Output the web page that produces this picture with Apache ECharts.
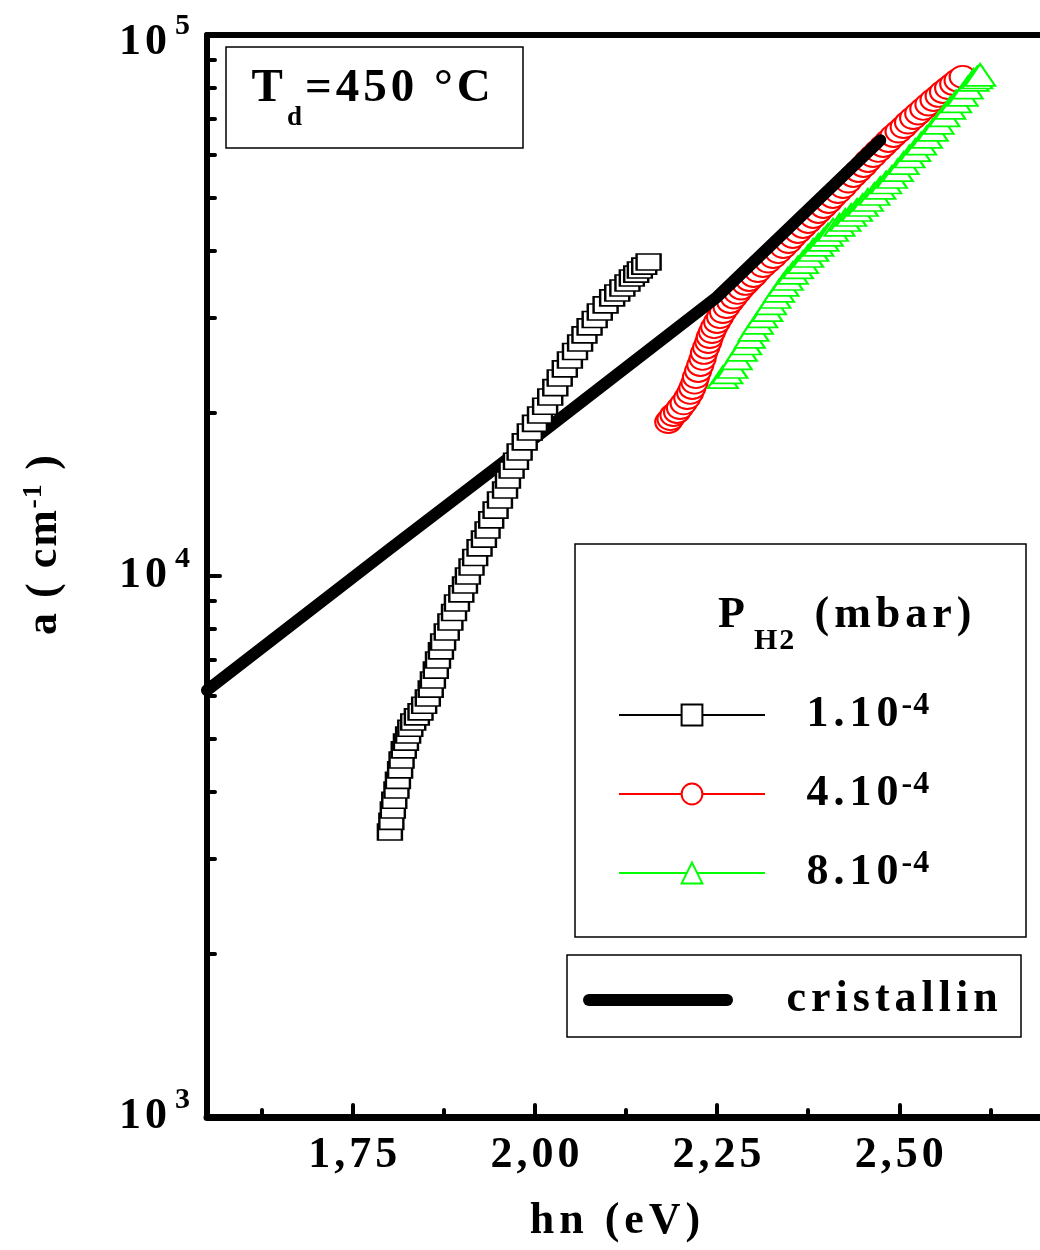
<!DOCTYPE html>
<html><head><meta charset="utf-8">
<script src="https://cdn.jsdelivr.net/npm/echarts@6/dist/echarts.min.js"></script>
<style>html,body{margin:0;padding:0;background:#fff;overflow:hidden}#c{width:1040px;height:1250px}</style>
</head><body><div id="c"></div>
<script>
// ---------------- data ----------------
const pressureMantissa = ['1.10', '4.10', '8.10'];
const pressureExponent = ['-4', '-4', '-4'];
const crystalName = 'cristallin';

// P(H2) = 1.10^-4 mbar  (open squares)
const energy1 = [1.801,1.803,1.805,1.807,1.810,1.812,1.815,1.817,1.820,1.823,1.826,1.829,1.833,1.838,1.843,1.848,1.853,1.857,1.860,1.864,1.867,1.871,1.874,1.879,1.884,1.889,1.893,1.899,1.904,1.908,1.913,1.918,1.924,1.930,1.935,1.940,1.946,1.952,1.959,1.963,1.968,1.974,1.979,1.986,1.993,2.000,2.007,2.014,2.021,2.028,2.034,2.041,2.048,2.055,2.062,2.068,2.075,2.082,2.089,2.097,2.106,2.113,2.120,2.127,2.133,2.139,2.144,2.150,2.156];
const alpha1  = [3364,3520,3694,3850,4021,4190,4381,4570,4770,4930,5083,5230,5373,5490,5607,5770,5950,6180,6423,6700,6995,7270,7551,7880,8222,8560,8915,9270,9625,10000,10390,10820,11270,11700,12160,12700,13240,13820,14420,15050,15700,16300,16950,17700,18460,19150,19840,20600,21420,22300,23230,24150,25080,26000,26960,27900,28870,29800,30760,31700,32660,33350,34070,34800,35550,36150,36780,37400,38050];

// P(H2) = 4.10^-4 mbar  (open circles)
const energy2 = [2.183,2.186,2.190,2.195,2.199,2.204,2.209,2.213,2.216,2.219,2.221,2.224,2.227,2.230,2.232,2.235,2.238,2.240,2.243,2.246,2.250,2.254,2.258,2.263,2.268,2.273,2.278,2.283,2.289,2.294,2.300,2.306,2.313,2.320,2.327,2.334,2.341,2.348,2.354,2.361,2.368,2.375,2.382,2.389,2.396,2.403,2.409,2.416,2.423,2.430,2.437,2.444,2.451,2.457,2.464,2.471,2.478,2.485,2.492,2.499,2.506,2.512,2.519,2.526,2.533,2.540,2.547,2.554,2.560,2.567,2.574,2.580,2.587];
const alpha2  = [19260,19500,19840,20100,20440,20850,21330,21800,22260,22780,23320,23930,24550,25200,25840,26450,27070,27650,28250,28850,29480,30100,30760,31420,32100,32720,33360,34000,34660,35250,35860,36620,37410,38130,38870,39700,40560,41430,42330,43240,44170,45120,46090,47080,48100,49130,50190,51260,52360,53600,54880,56060,57270,58500,59750,61050,62350,63700,65060,66310,67590,68900,70240,71600,73000,74400,75840,77150,78460,79800,81190,82400,83650];

// P(H2) = 8.10^-4 mbar  (open triangles)
const energy3 = [2.258,2.264,2.271,2.277,2.284,2.290,2.295,2.300,2.306,2.312,2.319,2.324,2.330,2.335,2.341,2.347,2.354,2.361,2.368,2.375,2.382,2.389,2.396,2.402,2.409,2.418,2.426,2.434,2.442,2.450,2.457,2.466,2.474,2.482,2.490,2.498,2.506,2.514,2.522,2.530,2.538,2.546,2.554,2.562,2.570,2.578,2.587,2.594,2.602,2.607,2.611];
const alpha3  = [23320,23800,24340,25250,26170,26900,27660,28500,29360,30180,31020,31900,32790,33640,34510,35400,36320,37180,38050,39040,40050,40920,41800,42700,43610,44550,45500,46480,47480,48500,49550,50830,52150,53380,54640,56280,57990,59620,61290,63010,64790,66750,68770,71000,73320,75360,77470,79950,82580,83450,84360];

// crystalline reference curve
const energyC = [1.55, 1.80, 2.00, 2.25, 2.474];
const alphaC  = [6150, 11200, 18000, 32800, 63900];

// axis ticks / labels
const xTickValues = [1.75, 2.00, 2.25, 2.50];
const xTickLabels = ['1,75', '2,00', '2,25', '2,50'];
const xMinorTicks = [1.625, 1.875, 2.125, 2.375, 2.625];
const yTickValues = [1000, 10000, 100000];
const yTickExponents = ['3', '4', '5'];
const yMinorTicks = [2000,3000,4000,5000,6000,7000,8000,9000,20000,30000,40000,50000,60000,70000,80000,90000];

const xAxisTitle = 'hn (eV)';
const yTitleMain = 'a ( cm', yTitleSup = '-1', yTitleEnd = ' )';
const boxTitle = ['T', 'd', '=450 °C'];
const legendTitle = ['P', 'H2', '(mbar)'];

// ---------------- helpers ----------------
const FONT = "'Liberation Serif','Times New Roman',serif";
const seriesNames = pressureMantissa.map((m, i) => m + '^' + pressureExponent[i]);
function sp(style, str) { return Array.from(str).map(c => '{' + style + '|' + c + '}').join(''); }
function rs(size, gap, extra) {
  return Object.assign({ fontFamily: FONT, fontWeight: 'bold', fontSize: size, color: '#000',
    lineHeight: size, padding: [0, gap / 2, 0, gap / 2] }, extra || {});
}
function pairs(e, a) { return e.map((v, i) => [v, a[i]]); }
function gtext(x, y, str, size, gap) {
  return { type: 'text', x: x, y: y, z: 50,
    style: { text: sp('c', str), rich: { c: rs(size, gap) }, align: 'left', verticalAlign: 'middle' } };
}

const ellipse = 'path://M0 10A10 10 0 1 1 20 10A10 10 0 1 1 0 10Z';
const capsule = 'path://M6 0H144A6 6 0 0 1 144 12H6A6 6 0 0 1 6 0Z';

const chart = echarts.init(document.getElementById('c'), null, { renderer: 'canvas' });

const xBase = { type: 'value', min: 1.55, max: 2.7, splitLine: { show: false } };
const yBase = { type: 'log', logBase: 10, min: 1000, max: 100000, splitLine: { show: false } };

const option = {
  animation: false,
  backgroundColor: '#fff',
  grid: { left: 207, right: -5, top: 35, bottom: 133, containLabel: false, outerBoundsMode: 'none' },
  xAxis: [
    Object.assign({}, xBase, {
      position: 'bottom',
      axisLine: { show: true, onZero: false, lineStyle: { color: '#000', width: 7 } },
      axisTick: { show: true, inside: true, length: 12, customValues: xTickValues,
        lineStyle: { color: '#000', width: 4, cap: 'round' } },
      axisLabel: { show: true, customValues: xTickValues, margin: 17,
        formatter: v => { const i = xTickValues.findIndex(t => Math.abs(t - v) < 1e-6); return i < 0 ? '' : sp('t', xTickLabels[i]); },
        rich: { t: rs(44, 4, { lineHeight: 44 }) } },
      name: sp('n', xAxisTitle), nameLocation: 'middle', nameGap: 80,
      nameTextStyle: { rich: { n: rs(44, 5, { lineHeight: 50 }) }, padding: [0, 22, 0, 0] }
    }),
    Object.assign({}, xBase, {
      position: 'bottom',
      axisLine: { show: false, onZero: false },
      axisTick: { show: true, inside: true, length: 7, customValues: xMinorTicks,
        lineStyle: { color: '#000', width: 4, cap: 'round' } },
      axisLabel: { show: false }
    }),
    Object.assign({}, xBase, {
      position: 'top',
      axisLine: { show: true, onZero: false, lineStyle: { color: '#000', width: 6 } },
      axisTick: { show: false }, axisLabel: { show: false }
    })
  ],
  yAxis: [
    Object.assign({}, yBase, {
      position: 'left',
      axisLine: { show: true, onZero: false, lineStyle: { color: '#000', width: 6 } },
      axisTick: { show: true, inside: true, length: 13, customValues: yTickValues,
        lineStyle: { color: '#000', width: 4, cap: 'round' } },
      axisLabel: { show: true, customValues: yTickValues, margin: 17,
        formatter: v => {
          const i = yTickValues.findIndex(t => Math.abs(t - v) / t < 1e-6);
          if (i < 0) return '';
          const top = i === yTickValues.length - 1;
          return sp(top ? 'T' : 't', '10') + sp(top ? 'E' : 'e', yTickExponents[i]);
        },
        rich: {
          t: rs(44, 4, { lineHeight: 44 }), e: rs(30, 0, { lineHeight: 8, padding: [0, 0, 33, 6] }),
          T: rs(44, 4, { lineHeight: 44, padding: [16, 2, 0, 2] }), E: rs(30, 0, { lineHeight: 8, padding: [16, 0, 33, 6] })
        } },
      name: sp('n', yTitleMain) + sp('u', yTitleSup) + sp('n', yTitleEnd),
      nameLocation: 'middle', nameRotate: 90, nameGap: 137,
      nameTextStyle: { rich: { n: rs(44, 2, { lineHeight: 50 }), u: rs(28, 1, { lineHeight: 11, verticalAlign: 'top' }) },
        padding: [0, 0, 0, 62] }
    }),
    Object.assign({}, yBase, {
      position: 'left',
      axisLine: { show: false, onZero: false },
      axisTick: { show: true, inside: true, length: 8, customValues: yMinorTicks,
        lineStyle: { color: '#000', width: 4, cap: 'round' } },
      axisLabel: { show: false }
    })
  ],
  legend: [
    {
      data: seriesNames, orient: 'vertical', left: 618, top: 690, padding: 0, z: 20,
      itemWidth: 146, itemHeight: 26, itemGap: 32, selectedMode: false,
      lineStyle: { width: 2, opacity: 1 },
      formatter: name => { const i = seriesNames.indexOf(name); return '{g| }' + sp('m', pressureMantissa[i]) + sp('s', pressureExponent[i]); },
      textStyle: { rich: { g: { width: 34 }, m: rs(44, 5, { lineHeight: 50 }), s: rs(32, 1, { lineHeight: 11, verticalAlign: 'top' }) } }
    },
    {
      data: [{ name: crystalName, icon: capsule }], orient: 'vertical', left: 583, top: 978, padding: 0, z: 20,
      itemWidth: 150, itemHeight: 12, selectedMode: false,
      formatter: name => '{g| }' + sp('m', name),
      textStyle: { rich: { g: { width: 46 }, m: rs(44, 5, { lineHeight: 50 }) } }
    }
  ],
  graphic: [
    { type: 'rect', shape: { x: 226, y: 47, width: 297, height: 101 }, z: 1,
      style: { fill: 'none', stroke: '#000', lineWidth: 1.5 } },
    { type: 'rect', shape: { x: 575, y: 544, width: 451, height: 393 }, z: 1,
      style: { fill: 'none', stroke: '#000', lineWidth: 1.5 } },
    { type: 'rect', shape: { x: 567, y: 955, width: 454, height: 82 }, z: 1,
      style: { fill: 'none', stroke: '#000', lineWidth: 1.5 } },
    gtext(250, 89, boxTitle[0], 47, 3),
    gtext(286, 118, boxTitle[1], 27, 2),
    gtext(303, 89, boxTitle[2], 47, 4),
    gtext(716, 616, legendTitle[0], 44, 4),
    gtext(753, 641, legendTitle[1], 30, 2),
    gtext(812, 616, legendTitle[2], 44, 5)
  ],
  series: [
    { name: seriesNames[1], type: 'line', data: pairs(energy2, alpha2), symbol: ellipse, symbolSize: [26, 22],
      symbolKeepAspect: false, showAllSymbol: true,
      itemStyle: { color: '#fff', borderColor: '#ff0000', borderWidth: 2 },
      lineStyle: { color: '#ff0000', width: 2, opacity: 0 }, emphasis: { disabled: true }, z: 3 },
    { name: seriesNames[2], type: 'line', data: pairs(energy3, alpha3), symbol: 'triangle', symbolSize: [30, 22],
      showAllSymbol: true,
      itemStyle: { color: '#fff', borderColor: '#00ff00', borderWidth: 2 },
      lineStyle: { color: '#00ff00', width: 2, opacity: 0 }, emphasis: { disabled: true }, z: 3 },
    { name: crystalName, type: 'line', data: pairs(energyC, alphaC), symbol: 'none',
      itemStyle: { color: '#000' },
      lineStyle: { color: '#000', width: 12, cap: 'round', join: 'round' }, emphasis: { disabled: true }, z: 4 },
    { name: seriesNames[0], type: 'line', data: pairs(energy1, alpha1), symbol: 'rect', symbolSize: [24, 16],
      showAllSymbol: true,
      itemStyle: { color: '#fff', borderColor: '#000', borderWidth: 2 },
      lineStyle: { color: '#000', width: 2, opacity: 0 }, emphasis: { disabled: true }, z: 5 }
  ]
};
chart.setOption(option);
</script>
</body></html>
